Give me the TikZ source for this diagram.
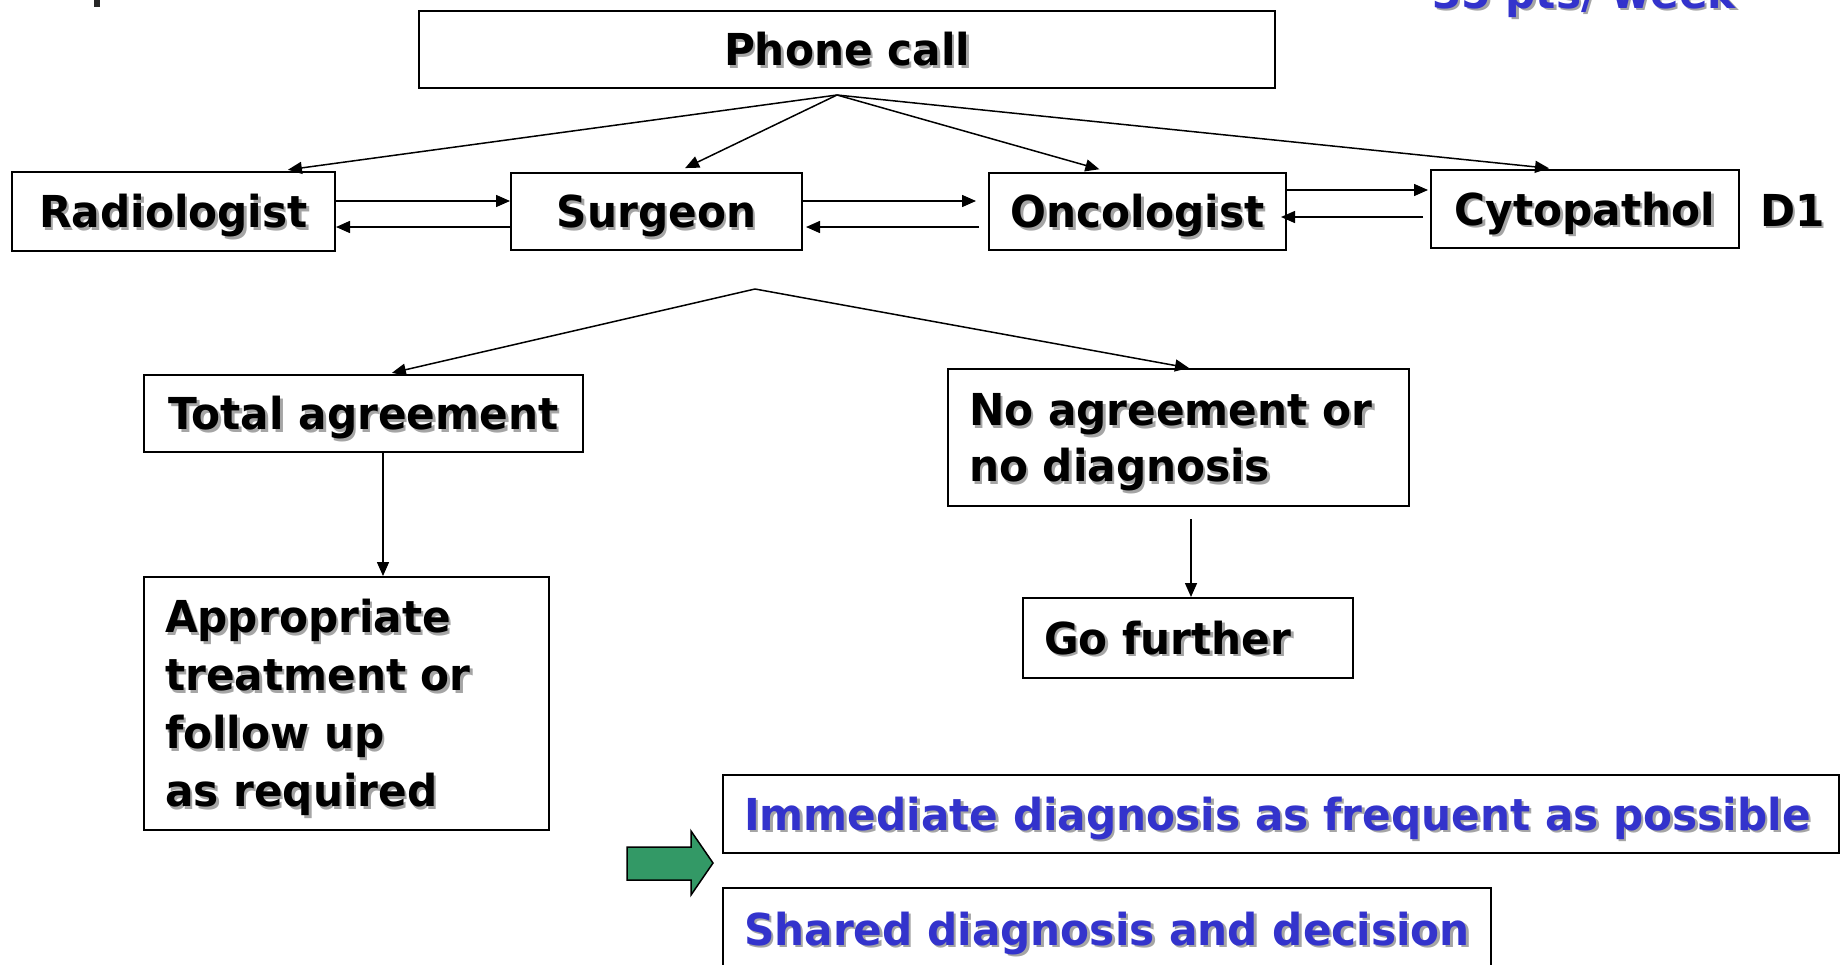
\documentclass[tikz,border=0pt]{standalone}
\usepackage{fontspec}
\setmainfont{DejaVu Sans}[FakeStretch=0.96]
\usetikzlibrary{arrows.meta,calc}
\definecolor{txtblue}{RGB}{51,51,204}
\definecolor{arrgreen}{RGB}{51,153,102}
\definecolor{shadowc}{RGB}{165,165,165}
\newcommand\sh[1]{\makebox[0pt][l]{\hspace{2.5pt}\raisebox{-2.5pt}{\textcolor{shadowc}{#1}}}#1}
\begin{document}
\begin{tikzpicture}[x=1pt,y=-1pt,
  box/.style={draw, line width=2pt, inner sep=0pt, text height=32pt, text depth=0pt,
    font=\fontsize{44}{58}\selectfont\bfseries},
  lbox/.style={box, align=left, inner xsep=21pt},
  lbl/.style={inner sep=0pt, font=\fontsize{44}{58}\selectfont\bfseries},
  arr/.style={-{Triangle[length=14pt,width=12pt]}, line width=1.5pt}]
\useasboundingbox (0,0) rectangle (1841,964);
\clip (0,0) rectangle (1841,964);

% cut-off header remnants
\fill[black!85] (94,0) rectangle (100,7);
\node[lbl, anchor=base west, text=txtblue] (pts) at (1432,8) {\sh{35 pts/ week}};

% boxes
\node[box, minimum width=856pt, minimum height=77pt] (phone) at (847,49.5) {\sh{Phone call}};
\node[box, minimum width=323pt, minimum height=79pt] (rad) at (173.5,211.5) {\sh{Radiologist}};
\node[box, minimum width=291pt, minimum height=77pt] (surg) at (656.5,211.5) {\sh{Surgeon}};
\node[box, minimum width=297pt, minimum height=77pt] (onc) at (1137.5,211.5) {\sh{Oncologist}};
\node[box, minimum width=308pt, minimum height=78pt] (cyto) at (1585,209) {\sh{Cytopathol}};
\node[lbl, anchor=base west] (d1) at (1760,226) {\sh{D1}};

\node[box, minimum width=439pt, minimum height=77pt] (total) at (363.5,413.5) {\sh{Total agreement}};
\node[lbox, text width=419pt, minimum height=137pt, text depth=56pt] (noagr) at (1178.5,437.5)
  {\leavevmode\vtop{\baselineskip=56pt\hbox{\sh{No agreement or}}\hbox{\sh{no diagnosis}}}};
\node[lbox, text width=363pt, minimum height=253pt, text depth=174pt] (approp) at (346.5,703.5)
  {\leavevmode\vtop{\baselineskip=58pt\hbox{\sh{Appropriate}}\hbox{\sh{treatment or}}\hbox{\sh{follow up}}\hbox{\sh{as required}}}};
\node[lbox, text width=288pt, minimum height=80pt] (gof) at (1188,638) {\sh{Go further}};

\node[lbox, text width=1074pt, minimum height=78pt, text=txtblue] (imm) at (1281,814) {\sh{Immediate diagnosis as frequent as possible}};
\node[lbox, text width=726pt, minimum height=82pt, text=txtblue] (shared) at (1107,929) {\sh{Shared diagnosis and decision}};

% green arrow
\draw[line width=1.5pt, fill=arrgreen, line join=miter]
  (627,847) -- (691,847) -- (691,831) -- (713,863) -- (691,895) -- (691,880) -- (627,880) -- cycle;

% connectors from phone call
\coordinate (pcfork) at (837,95);
\draw[arr, shorten >=9pt] (pcfork) -- ([xshift=105.5pt]rad.north);
\draw[arr, shorten >=9pt] (pcfork) -- ([xshift=20.5pt]surg.north);
\draw[arr, shorten >=10pt] (pcfork) -- ([xshift=-28.5pt]onc.north);
\draw[arr, shorten >=7pt] (pcfork) -- ([xshift=-29pt]cyto.north);

% horizontal exchanges
\draw[arr] ([yshift=10.5pt]rad.east) -- ([yshift=10.5pt]surg.west);
\draw[arr] ([yshift=-15.5pt]surg.west) -- ([yshift=-15.5pt]rad.east);
\draw[arr, shorten >=12pt] ([yshift=10.5pt]surg.east) -- ([yshift=10.5pt]onc.west);
\draw[arr, shorten <=9pt, shorten >=3pt] ([yshift=-15.5pt]onc.west) -- ([yshift=-15.5pt]surg.east);
\draw[arr, shorten >=2pt] ([yshift=21.5pt]onc.east) -- ([yshift=19pt]cyto.west);
\draw[arr, shorten <=7pt, shorten >=-6pt] ([yshift=-8pt]cyto.west) -- ([yshift=-5.5pt]onc.east);

% fork below surgeon
\coordinate (sfork) at (755,289);
\draw[arr, shorten >=5pt] (sfork) -- ([xshift=23.5pt]total.north);
\draw[arr] (sfork) -- ([xshift=10.5pt]noagr.north);

% vertical
\draw[arr] ([xshift=19.5pt]total.south) -- ([xshift=36.5pt]approp.north);
\draw[arr, shorten <=12pt] ([xshift=12.5pt]noagr.south) -- ([xshift=3pt]gof.north);
\end{tikzpicture}
\end{document}
